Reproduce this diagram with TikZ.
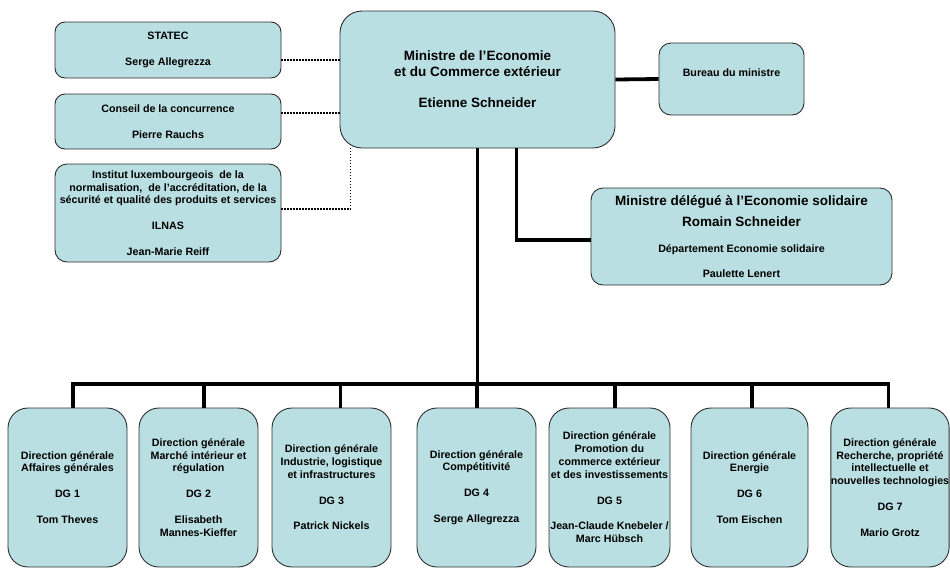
\documentclass[tikz,border=0pt]{standalone}
\usepackage{fontspec}
\setmainfont{Liberation Sans}
\definecolor{boxfill}{RGB}{185,223,226}
\definecolor{boxline}{RGB}{45,45,45}
\tikzset{
  orgbox/.style={draw=boxline, fill=boxfill, line width=0.9pt, rounded corners=#1,
    inner sep=0pt, align=center, font=\bfseries\fontsize{10.7}{12.8}\selectfont},
  bigtext/.style={font=\bfseries\fontsize{13.5}{15.6}\selectfont},
  thickline/.style={line width=3.8pt, black},
  dotline/.style={line width=1.6pt, black, dash pattern=on 1.5pt off 1.5pt}
}
\begin{document}
\begin{tikzpicture}[x=1pt,y=-1pt]
\useasboundingbox (0,0) rectangle (950,568);

% top-left boxes
\node[orgbox=10pt, minimum width=226pt, minimum height=56pt] (statec) at (168,50)
  {STATEC\\[13pt]Serge Allegrezza};
\node[orgbox=10pt, minimum width=226pt, minimum height=55pt] (conseil) at (168,121.5)
  {Conseil de la concurrence\\[13pt]Pierre Rauchs};
\node[orgbox=12pt, minimum width=226pt, minimum height=98pt] (inst) at (168,213)
  {Institut luxembourgeois \ de la\\normalisation, \ de l’accréditation, de la\\sécurité et qualité des produits et services\\[13pt]ILNAS\\[13pt]Jean-Marie Reiff};

% minister
\node[orgbox=22pt, bigtext, minimum width=275pt, minimum height=137pt] (min) at (477.5,79.5)
  {Ministre de l’Economie\\et du Commerce extérieur\\[16pt]Etienne Schneider};

% bureau
\node[orgbox=12pt, minimum width=145pt, minimum height=72pt] (bureau) at (731.5,79)
  {Bureau du ministre\\\mbox{}};

% delegate
\node[orgbox=12pt, minimum width=301pt, minimum height=97pt] (deleg) at (741.5,236.5)
  {{\fontsize{13.5}{15.6}\selectfont Ministre délégué à l’Economie solidaire}\\[8pt]
   {\fontsize{13.5}{15.6}\selectfont Romain Schneider}\\[14pt]
   Département Economie solidaire\\[12pt]Paulette Lenert};

% directions générales
\node[orgbox=20pt, minimum width=119pt, minimum height=159pt] (d1) at (67.5,487.5)
  {Direction générale\\Affaires générales\\[13pt]DG 1\\[13pt]Tom Theves};
\node[orgbox=20pt, minimum width=119pt, minimum height=159pt] (d2) at (198.5,487.5)
  {Direction générale\\Marché intérieur et\\régulation\\[13pt]DG 2\\[13pt]Elisabeth\\Mannes-Kieffer};
\node[orgbox=20pt, minimum width=119pt, minimum height=159pt] (d3) at (331.5,487.5)
  {Direction générale\\Industrie, logistique\\et infrastructures\\[13pt]DG 3\\[13pt]Patrick Nickels};
\node[orgbox=20pt, minimum width=119pt, minimum height=159pt] (d4) at (476.5,487.5)
  {Direction générale\\Compétitivité\\[13pt]DG 4\\[13pt]Serge Allegrezza};
\node[orgbox=20pt, minimum width=121pt, minimum height=159pt] (d5) at (609.5,487.5)
  {Direction générale\\Promotion du\\commerce extérieur\\et des investissements\\[13pt]DG 5\\[13pt]Jean-Claude Knebeler /\\Marc Hübsch};
\node[orgbox=20pt, minimum width=117pt, minimum height=159pt] (d6) at (749.5,487.5)
  {Direction générale\\Energie\\[13pt]DG 6\\[13pt]Tom Eischen};
\node[orgbox=20pt, minimum width=118pt, minimum height=159pt] (d7) at (890,487.5)
  {Direction générale\\Recherche, propriété\\intellectuelle et\\nouvelles technologies\\[13pt]DG 7\\[13pt]Mario Grotz};

% dotted connectors
\draw[dotline] ([yshift=-10pt]statec.east) -- ([yshift=-10pt]statec.east -| min.west);
\draw[dotline] ([yshift=8.5pt]conseil.east) -- ([yshift=8.5pt]conseil.east -| min.west);
\draw[dotline] ([yshift=4pt]inst.east) -| ([xshift=11pt]min.south west);

% thick connectors
\draw[thickline] (min.east) -- (bureau.west);
\draw[thickline] ([xshift=39pt]min.south) |- ([yshift=-3.5pt]deleg.west);
\coordinate (bus) at (477.5,384);
\draw[thickline] (min.south) -- (min.south |- bus);
\draw[thickline] ([xshift=5.5pt]d1.north) |- (bus) -| ([xshift=-1.5pt]d7.north);
\foreach \n/\s in {d2/5.5, d3/9, d4/0.5, d5/5.5, d6/2.5}
  \draw[thickline] ([xshift=\s pt]\n.north) -- ([xshift=\s pt]\n.north |- bus);
\end{tikzpicture}
\end{document}
